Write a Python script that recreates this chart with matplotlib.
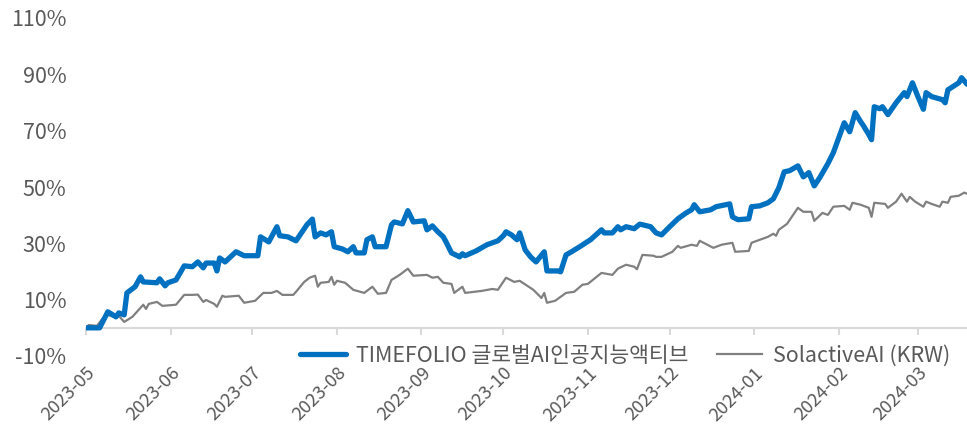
import matplotlib
matplotlib.use('Agg')
import matplotlib.pyplot as plt
import pandas as pd

plt.rcParams['font.family'] = ['Noto Sans CJK KR', 'DejaVu Sans']

START = '2023-05-01'
END_DAY = 323

series_names = ['TIMEFOLIO 글로벌AI인공지능액티브', 'SolactiveAI (KRW)']

# days since 2023-05-01, cumulative return (%)
tf_days = [0, 5, 8, 11, 12, 14, 15, 18, 20, 21, 26, 27, 29, 30, 33, 36, 39, 41, 43, 44,
           47, 48, 49, 51, 55, 58, 63, 64, 67, 70, 71, 74, 77, 81, 83, 84, 86, 88, 90, 91,
           94, 96, 98, 99, 102, 103, 105, 106, 110, 112, 113, 116, 118, 120, 124, 125, 127, 129, 131, 132,
           134, 137, 138, 139, 143, 147, 151, 153, 154, 156, 158, 159, 161, 163, 165, 168, 169, 173, 174, 176,
           178, 181, 185, 189, 190, 193, 195, 196, 198, 201, 203, 204, 207, 209, 211, 214, 217, 218, 220, 222,
           223, 225, 229, 231, 236, 237, 239, 243, 244, 247, 250, 252, 254, 256, 258, 261, 263, 265, 267, 269,
           272, 274, 278, 280, 282, 284, 285, 287, 288, 289, 291, 292, 294, 297, 300, 301, 303, 305, 307, 308,
           310, 314, 315, 316, 320, 321, 323]
tf_vals = [0.0, 0.0, 5.7, 3.9, 5.3, 4.6, 12.4, 14.6, 18.1, 16.3, 16.0, 17.4, 14.9, 16.0, 17.0, 22.0, 21.7, 23.4, 21.3, 23.0,
           23.0, 20.2, 24.8, 23.4, 27.0, 25.6, 25.6, 32.3, 30.5, 35.9, 32.7, 32.3, 30.9, 36.6, 38.6, 32.3, 33.7, 33.0, 34.1, 28.8,
           28.0, 27.0, 28.8, 26.6, 26.6, 31.3, 32.3, 28.8, 28.8, 36.6, 37.6, 36.9, 41.6, 37.6, 38.0, 34.8, 36.2, 34.1, 32.3, 30.5,
           26.6, 25.2, 26.3, 25.6, 27.3, 29.5, 30.9, 32.7, 34.1, 33.0, 31.3, 33.7, 27.7, 25.2, 23.4, 27.0, 20.2, 20.2, 19.9, 25.9,
           27.0, 28.8, 31.3, 34.8, 33.7, 33.7, 35.9, 34.8, 35.9, 35.2, 36.8, 36.6, 35.9, 33.7, 33.0, 35.9, 38.7, 39.4, 40.8, 41.9,
           43.7, 41.2, 41.9, 43.0, 44.0, 39.4, 38.4, 38.7, 43.0, 43.3, 44.4, 45.8, 49.7, 55.4, 55.8, 57.5, 53.6, 55.1, 50.4, 53.3,
           58.3, 62.2, 72.8, 69.6, 76.4, 73.2, 71.8, 68.6, 66.8, 78.5, 77.8, 78.5, 75.7, 79.9, 83.5, 82.1, 87.0, 82.1, 77.6, 83.5,
           82.1, 81.0, 79.9, 84.5, 87.0, 88.8, 86.5]

sol_days = [0, 1, 4, 6, 8, 11, 12, 14, 17, 21, 22, 23, 26, 28, 33, 36, 39, 41, 43, 44,
            47, 48, 50, 51, 56, 58, 62, 65, 68, 70, 72, 76, 77, 80, 82, 84, 85, 86, 89, 90,
            91, 92, 95, 98, 102, 105, 107, 110, 112, 115, 118, 120, 125, 127, 129, 131, 134, 135, 138, 139,
            145, 149, 151, 154, 157, 159, 164, 167, 168, 169, 172, 176, 179, 182, 184, 189, 193, 195, 198, 201,
            202, 204, 208, 209, 211, 215, 217, 218, 222, 224, 225, 230, 233, 237, 238, 243, 244, 246, 250, 252,
            253, 254, 257, 261, 263, 266, 267, 270, 272, 274, 278, 280, 281, 284, 287, 288, 289, 293, 294, 297,
            299, 301, 302, 304, 307, 308, 310, 313, 314, 316, 317, 320, 322, 323]
sol_vals = [0.0, 1.0, 0.7, 3.2, 4.6, 3.6, 4.3, 2.1, 3.9, 8.2, 6.7, 8.5, 9.2, 7.8, 8.2, 11.7, 11.7, 11.8, 9.2, 9.9,
            8.5, 7.5, 11.4, 11.0, 11.4, 8.9, 9.6, 12.4, 12.4, 13.1, 11.7, 11.7, 12.8, 16.3, 17.8, 18.5, 14.6, 16.0, 16.3, 18.1,
            15.3, 16.7, 16.0, 13.5, 12.4, 14.6, 12.1, 12.4, 17.0, 18.8, 21.0, 18.5, 18.8, 17.8, 18.1, 16.0, 15.6, 12.4, 14.6, 12.4,
            13.1, 13.8, 13.5, 17.8, 16.3, 16.7, 13.5, 10.6, 12.4, 8.9, 9.6, 12.4, 12.8, 15.3, 15.6, 19.5, 18.8, 21.0, 22.4, 21.7,
            20.8, 25.9, 25.6, 25.2, 25.2, 27.0, 29.1, 28.4, 29.5, 29.1, 30.9, 28.4, 29.5, 30.2, 27.0, 27.3, 30.2, 30.9, 32.3, 33.4,
            32.7, 34.8, 36.9, 42.6, 41.2, 41.2, 38.0, 40.8, 40.1, 43.0, 43.3, 41.9, 44.4, 43.7, 42.6, 39.4, 44.4, 44.0, 42.6, 44.8,
            47.6, 44.8, 46.5, 44.8, 43.0, 44.8, 44.0, 43.0, 44.8, 44.4, 46.5, 46.9, 48.0, 47.6]

tick_months = ['2023-05', '2023-06', '2023-07', '2023-08', '2023-09', '2023-10',
               '2023-11', '2023-12', '2024-01', '2024-02', '2024-03']
y_ticks = [-10, 10, 30, 50, 70, 90, 110]

start = pd.Timestamp(START)
tf_dates = start + pd.to_timedelta(tf_days, unit='D')
sol_dates = start + pd.to_timedelta(sol_days, unit='D')

W, H = 967, 428
fig = plt.figure(figsize=(W / 100, H / 100), dpi=100)
ax = fig.add_axes([86 / W, 1 - 356 / H, 1 - 86 / W, (356 - 18) / H])

ax.plot(tf_dates, tf_vals, color='#0070C0', lw=3.8, solid_joinstyle='round',
        solid_capstyle='round', label=series_names[0], zorder=3)
ax.plot(sol_dates, sol_vals, color='#808080', lw=1.6, label=series_names[1], zorder=2)

ax.set_xlim(start, start + pd.Timedelta(days=END_DAY))
ax.set_ylim(-10, 110)

for s in ['top', 'right', 'left']:
    ax.spines[s].set_visible(False)
ax.spines['bottom'].set_position(('data', 0))
ax.spines['bottom'].set_color('#D9D9D9')
ax.spines['bottom'].set_linewidth(1.5)

ax.tick_params(axis='y', length=0, pad=14, labelsize=15.5, labelcolor='#595959')
ax.tick_params(axis='x', length=5, width=1.5, color='#D9D9D9', pad=21,
               labelsize=13.2, labelcolor='#595959')

ax.set_yticks(y_ticks)
ax.set_yticklabels([f'{v}%' for v in y_ticks])
ax.set_xticks(pd.to_datetime(tick_months))
ax.set_xticklabels(tick_months)
for lab in ax.get_xticklabels():
    lab.set_rotation(45)
    lab.set_ha('right')
    lab.set_va('top')
    lab.set_rotation_mode('anchor')

leg = fig.legend(loc='center right', bbox_to_anchor=(950 / W, 1 - 356 / H),
                 ncol=2, frameon=False, fontsize=15.5, handlelength=2.1,
                 handletextpad=0.5, columnspacing=1.3, borderpad=0, borderaxespad=0)
for t in leg.get_texts():
    t.set_color('#595959')

fig.savefig('out.png', dpi=100)
